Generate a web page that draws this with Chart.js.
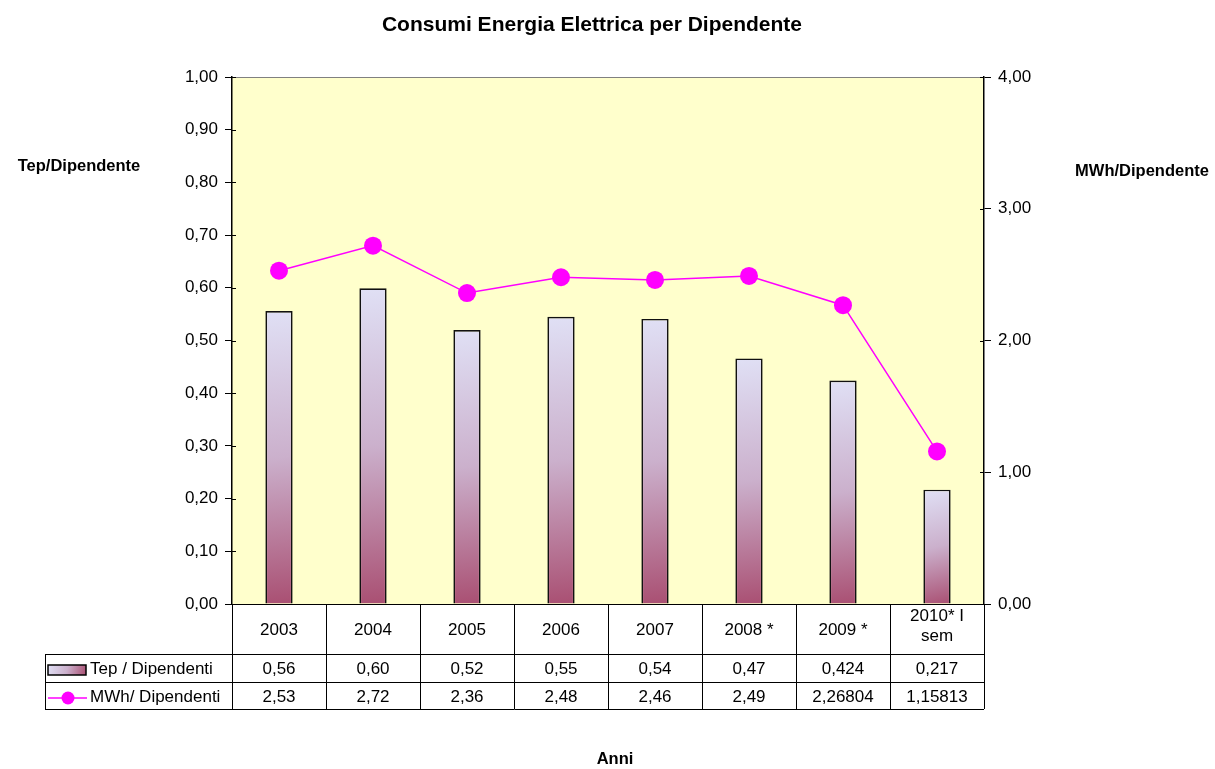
<!DOCTYPE html>
<html>
<head>
<meta charset="utf-8">
<title>Consumi Energia Elettrica per Dipendente</title>
<script src="https://cdn.jsdelivr.net/npm/chart.js@4"></script>
<style>
  html, body { margin: 0; padding: 0; background: #fff; }
</style>
</head>
<body>
<canvas id="consumi" width="1215" height="769"></canvas>
<script>
// dati
const anni = ['2003', '2004', '2005', '2006', '2007', '2008 *', '2009 *', ['2010* I', 'sem']];
const tepDipendenti = [0.556, 0.599, 0.52, 0.545, 0.541, 0.466, 0.424, 0.217];
const mwhDipendenti = [2.53, 2.72, 2.36, 2.48, 2.46, 2.49, 2.26804, 1.15813];
// testo della tabella dati
const tepTesto = ['0,56', '0,60', '0,52', '0,55', '0,54', '0,47', '0,424', '0,217'];
const mwhTesto = ['2,53', '2,72', '2,36', '2,48', '2,46', '2,49', '2,26804', '1,15813'];
const serieNomi = ['Tep / Dipendenti', 'MWh/ Dipendenti'];

const FONT = 'Liberation Sans, Arial, sans-serif';
const fmt = v => v.toFixed(2).replace('.', ',');

function barGradient(c, x0, y0, x1, y1) {
  const g = c.createLinearGradient(x0, y0, x1, y1);
  g.addColorStop(0, '#e0e0f5');
  g.addColorStop(0.5, '#cbb0cc');
  g.addColorStop(1, '#a94f72');
  return g;
}

// sfondo giallo dell'area del grafico
const plotBackground = {
  id: 'plotBackground',
  beforeDraw(chart) {
    const { ctx, chartArea: a } = chart;
    ctx.save();
    ctx.fillStyle = '#ffffcc';
    ctx.fillRect(a.left, a.top, a.right - a.left, a.bottom - a.top);
    ctx.strokeStyle = '#808080';
    ctx.lineWidth = 1;
    ctx.beginPath();
    ctx.moveTo(a.left, a.top + 0.5);
    ctx.lineTo(a.right, a.top + 0.5);
    ctx.stroke();
    ctx.restore();
  },
  // piccola parte interna dei segni di graduazione
  afterDatasetsDraw(chart) {
    const { ctx, chartArea: a, scales } = chart;
    ctx.save();
    ctx.strokeStyle = '#000';
    ctx.lineWidth = 1;
    ctx.beginPath();
    scales.y.ticks.forEach(t => {
      const yy = Math.round(scales.y.getPixelForValue(t.value)) + 0.5;
      ctx.moveTo(a.left, yy); ctx.lineTo(a.left + 4, yy);
    });
    scales.y2.ticks.forEach(t => {
      const yy = Math.round(scales.y2.getPixelForValue(t.value)) + 0.5;
      ctx.moveTo(a.right - 4, yy); ctx.lineTo(a.right, yy);
    });
    ctx.stroke();
    ctx.restore();
  }
};

// titoli e tabella dati sotto il grafico
const dataTable = {
  id: 'dataTable',
  afterDraw(chart) {
    const { ctx, chartArea: a, scales } = chart;
    const x = scales.x;
    const n = anni.length;
    const cw = (a.right - a.left) / n;
    const r0 = a.bottom, r1 = r0 + 50, r2 = r1 + 28, r3 = r2 + 27;
    const left = 45;

    ctx.save();
    ctx.fillStyle = '#000';
    ctx.textAlign = 'center';
    ctx.textBaseline = 'middle';

    // titoli
    ctx.font = 'bold 21px ' + FONT;
    ctx.fillText('Consumi Energia Elettrica per Dipendente', 592, 25);
    ctx.font = 'bold 16.5px ' + FONT;
    ctx.fillText('Tep/Dipendente', 79, 166);
    ctx.fillText('MWh/Dipendente', 1142, 171);
    ctx.fillText('Anni', 615, 759);

    // linee della tabella
    ctx.strokeStyle = '#000';
    ctx.lineWidth = 1;
    ctx.beginPath();
    ctx.moveTo(a.left, r0 + 0.5); ctx.lineTo(a.right, r0 + 0.5);
    [r1, r2, r3].forEach(r => { ctx.moveTo(left, r + 0.5); ctx.lineTo(a.right, r + 0.5); });
    for (let i = 0; i <= n; i++) {
      const xx = Math.round(a.left + i * cw) + 0.5;
      ctx.moveTo(xx, r0); ctx.lineTo(xx, r3);
    }
    ctx.moveTo(left + 0.5, r1); ctx.lineTo(left + 0.5, r3);
    ctx.stroke();

    // etichette e valori
    ctx.font = '17px ' + FONT;
    anni.forEach((lab, i) => {
      const cx = x.getPixelForValue(i);
      if (Array.isArray(lab)) {
        ctx.fillText(lab[0], cx, (r0 + r1) / 2 - 13);
        ctx.fillText(lab[1], cx, (r0 + r1) / 2 + 7);
      } else {
        ctx.fillText(lab, cx, (r0 + r1) / 2 + 1);
      }
      ctx.fillText(tepTesto[i], cx, (r1 + r2) / 2 + 1.5);
      ctx.fillText(mwhTesto[i], cx, (r2 + r3) / 2 + 1.5);
    });

    // chiavi della legenda
    ctx.textAlign = 'left';
    ctx.fillText(serieNomi[0], 90, (r1 + r2) / 2 + 1.5);
    ctx.fillText(serieNomi[1], 90, (r2 + r3) / 2 + 1.5);
    const ky = (r1 + r2) / 2 - 3;
    ctx.fillStyle = barGradient(ctx, 48, ky, 86, ky + 10);
    ctx.fillRect(48, ky, 38, 10);
    ctx.lineWidth = 1.5;
    ctx.strokeRect(48, ky, 38, 10);
    const ly = (r2 + r3) / 2 + 2.5;
    ctx.strokeStyle = '#ff00ff';
    ctx.lineWidth = 1.5;
    ctx.beginPath(); ctx.moveTo(48, ly); ctx.lineTo(87, ly); ctx.stroke();
    ctx.fillStyle = '#ff00ff';
    ctx.beginPath(); ctx.arc(68, ly, 6.5, 0, Math.PI * 2); ctx.fill();
    ctx.restore();
  }
};

new Chart(document.getElementById('consumi'), {
  type: 'bar',
  data: {
    labels: anni,
    datasets: [
      // MWh
      {
        type: 'line',
        label: serieNomi[1],
        data: mwhDipendenti,
        yAxisID: 'y2',
        order: 0,
        borderColor: '#ff00ff',
        borderWidth: 1.5,
        pointRadius: 9,
        pointBackgroundColor: '#ff00ff',
        pointBorderColor: '#ff00ff',
        pointBorderWidth: 0,
        tension: 0,
      },
      // Tep
      {
        label: serieNomi[0],
        data: tepDipendenti,
        yAxisID: 'y',
        order: 1,
        borderColor: '#111',
        borderWidth: 1.7,
        barPercentage: 0.29,
        categoryPercentage: 1,
        backgroundColor: c => {
          const chart = c.chart, a = chart.chartArea;
          if (!a || c.type !== 'data') return '#cbb0cc';
          const cx = chart.scales.x.getPixelForValue(c.dataIndex);
          const top = chart.scales.y.getPixelForValue(c.raw);
          return barGradient(chart.ctx, cx - 14, top, cx + 14, a.bottom);
        },
      },
    ],
  },
  options: {
    responsive: false,
    animation: false,
    layout: { padding: { top: 77, bottom: 165, left: 0, right: 0 } },
    plugins: {
      legend: { display: false },
      title: { display: false },
      tooltip: { enabled: false },
    },
    scales: {
      x: { display: false },
      y: {
        position: 'left',
        min: 0, max: 1,
        ticks: { stepSize: 0.1, color: '#000', font: { family: FONT, size: 17 }, padding: 7, callback: v => fmt(v) },
        grid: { drawOnChartArea: false, tickLength: 7, color: '#000' },
        border: { color: '#000', width: 1.5 },
        afterFit: s => { s.width = 232; },
      },
      y2: {
        position: 'right',
        min: 0, max: 4,
        ticks: { stepSize: 1, color: '#000', font: { family: FONT, size: 17 }, padding: 7, callback: v => fmt(v) },
        grid: { drawOnChartArea: false, tickLength: 7, color: '#000' },
        border: { color: '#000', width: 1.5 },
        afterFit: s => { s.width = 231; },
      },
    },
  },
  plugins: [plotBackground, dataTable],
});
</script>
</body>
</html>
